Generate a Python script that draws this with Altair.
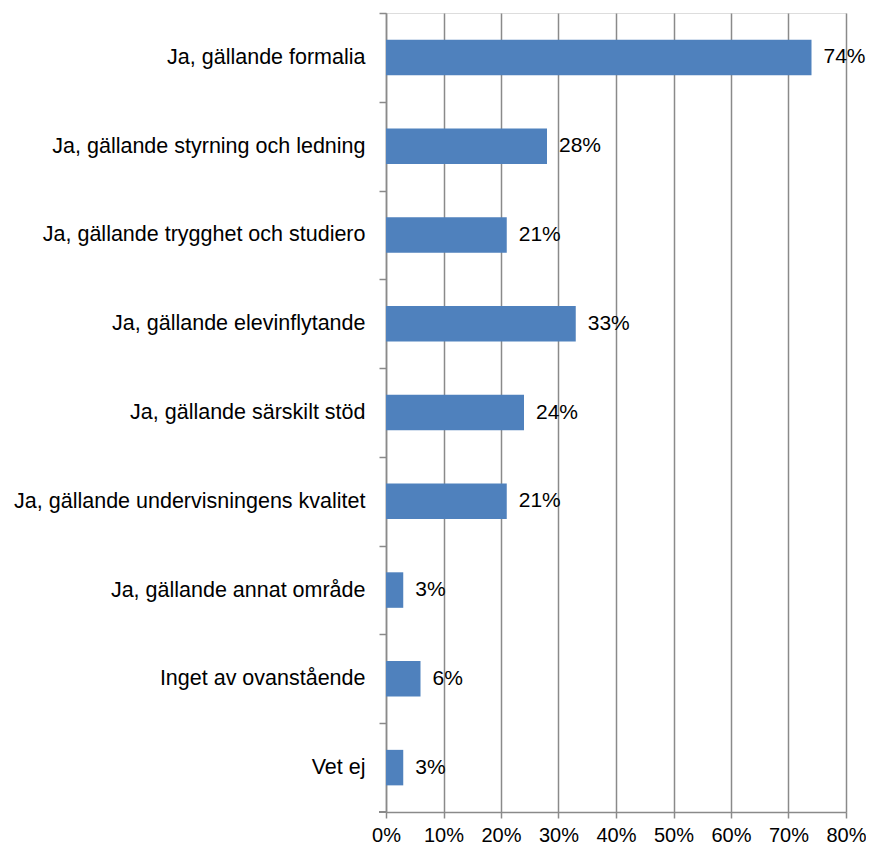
import altair as alt
import pandas as pd

categories = [
    "Ja, gällande formalia",
    "Ja, gällande styrning och ledning",
    "Ja, gällande trygghet och studiero",
    "Ja, gällande elevinflytande",
    "Ja, gällande särskilt stöd",
    "Ja, gällande undervisningens kvalitet",
    "Ja, gällande annat område",
    "Inget av ovanstående",
    "Vet ej",
]
values = [0.74, 0.28, 0.21, 0.33, 0.24, 0.21, 0.03, 0.06, 0.03]
x_ticks = [0, 0.1, 0.2, 0.3, 0.4, 0.5, 0.6, 0.7, 0.8]

df = pd.DataFrame({"cat": categories, "val": values})

FONT = "Liberation Sans"
FS = 21.5
FS_DATA = 21
FS_SMALL = 20
GRID = "#8a8a8a"
W, H = 460, 799
STEP = H / len(categories)

y_enc = alt.Y(
    "cat:N",
    sort=categories,
    title=None,
    scale=alt.Scale(paddingInner=0.6, paddingOuter=0.3),
    axis=alt.Axis(
        ticks=True,
        tickSize=7,
        tickOffset=-STEP / 2,
        labelOffset=STEP / 2,
        tickColor=GRID,
        tickWidth=1.5,
        domainColor=GRID,
        domainWidth=1.5,
        labelPadding=14,
        labelFont=FONT,
        labelFontSize=FS,
        labelColor="#000000",
        labelLimit=500,
        grid=False,
    ),
)

x_enc = alt.X(
    "val:Q",
    title=None,
    scale=alt.Scale(domain=[0, 0.8], nice=False),
    axis=alt.Axis(
        values=x_ticks,
        format=".0%",
        grid=True,
        gridColor=GRID,
        gridWidth=1.5,
        tickSize=6,
        tickColor=GRID,
        tickWidth=1.5,
        domainColor=GRID,
        domainWidth=1.5,
        labelPadding=7,
        labelFont=FONT,
        labelFontSize=FS_SMALL,
        labelColor="#000000",
        labelFlush=False,
    ),
)

bars = alt.Chart(df).mark_bar(color="#4F81BD").encode(y=y_enc, x=x_enc)

labels = alt.Chart(df).mark_text(
    align="left", baseline="middle", dx=12, font=FONT, fontSize=FS_DATA, color="#000000"
).encode(
    y=alt.Y("cat:N", sort=categories),
    x=alt.X("val:Q"),
    text=alt.Text("val:Q", format=".0%"),
)

# closing tick at the bottom of the category axis
bottom_tick = alt.Chart(df).mark_rule(color=GRID, strokeWidth=1.5).encode(
    x=alt.value(-7), x2=alt.value(0), y=alt.value(H)
)

chart = (
    alt.layer(bars, labels, bottom_tick)
    .properties(
        width=W,
        height=H,
        autosize=alt.AutoSizeParams(type="none"),
        padding={"left": 378, "top": 5, "right": 20, "bottom": 33},
    )
    .configure_view(stroke=None)
    .configure(background="#ffffff")
)

chart.save("out.html", embed_options={"renderer": "svg", "actions": False})
